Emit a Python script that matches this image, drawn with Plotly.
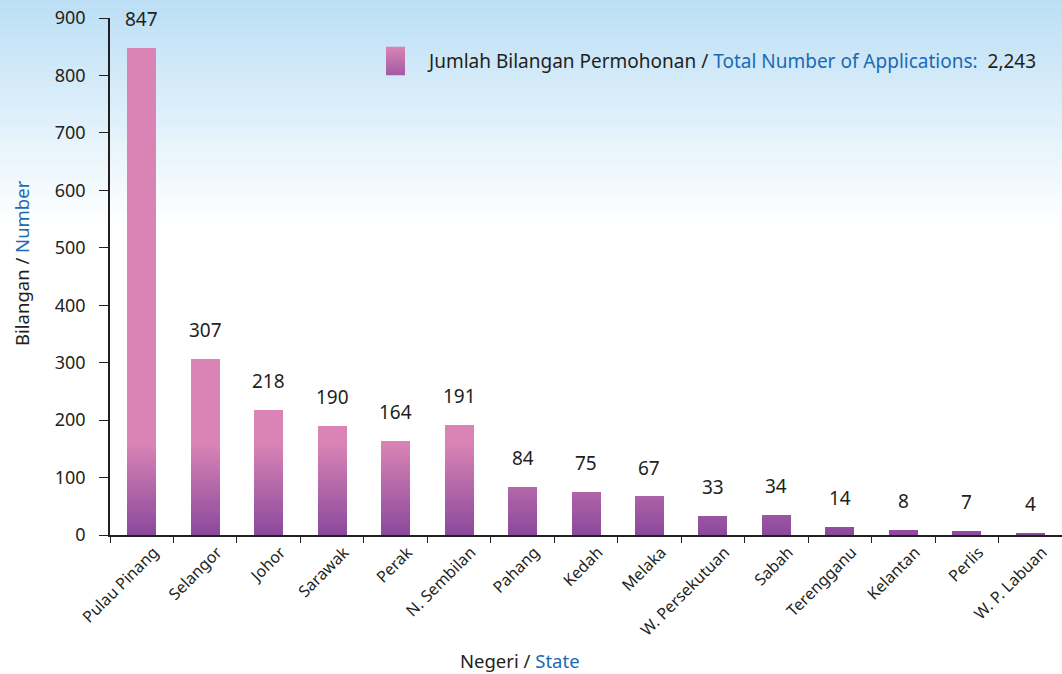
import plotly.graph_objects as go
import numpy as np

states = ["Pulau Pinang", "Selangor", "Johor", "Sarawak", "Perak", "N. Sembilan",
          "Pahang", "Kedah", "Melaka", "W. Persekutuan", "Sabah", "Terengganu",
          "Kelantan", "Perlis", "W. P. Labuan"]
applications = [847, 307, 218, 190, 164, 191, 84, 75, 67, 33, 34, 14, 8, 7, 4]
total_label = "2,243"
y_ticks = [0, 100, 200, 300, 400, 500, 600, 700, 800, 900]

DARK = "#231F20"
BLUE = "#1B6AB4"
FONT = "Noto Sans"

PURPLE = np.array([0x8B, 0x49, 0x9C])
PINK = np.array([0xD9, 0x84, 0xB5])

def mix(t):
    c = PURPLE + (PINK - PURPLE) * t
    return "rgb(%d,%d,%d)" % tuple(int(round(v)) for v in c)

fig = go.Figure()

# gradient bars: stacked slices whose colour depends on absolute height
vals = np.array(applications, dtype=float)
n_bands = 32
grad_top = 160.0
edges = list(np.linspace(0, grad_top, n_bands + 1)) + [10000.0]
for i in range(len(edges) - 1):
    lo, hi = edges[i], edges[i + 1]
    seg = np.clip(vals - lo, 0, hi - lo)
    t = min((lo + (min(hi, grad_top) - lo) / 2) / grad_top, 1.0) if lo < grad_top else 1.0
    fig.add_trace(go.Bar(
        x=states, y=seg, width=0.457,
        marker=dict(color=mix(t), line=dict(width=0)),
        showlegend=False, hoverinfo="skip",
    ))

# value labels
for s, v in zip(states, applications):
    fig.add_annotation(x=s, y=v, text=str(v), showarrow=False, yshift=29,
                       font=dict(family=FONT, size=19, color=DARK), yanchor="middle")

# background gradient (paper coords; plot height 517px, top margin 18px)
PH = 517.0
PW = 952.0
top_rgb = np.array([0xBB, 0xDF, 0xF5])
white = np.array([255, 255, 255])
nbg = 60
py_end = 225.0
for k in range(nbg):
    p0 = py_end * k / nbg
    p1 = py_end * (k + 1) / nbg
    t = (k + 0.5) / nbg
    c = top_rgb + (white - top_rgb) * t
    fig.add_shape(type="rect", xref="paper", yref="paper",
                  x0=-0.2, x1=1.05, y0=(535 - p1) / PH - 0.0005, y1=(535 - p0) / PH + 0.0005,
                  fillcolor="rgb(%d,%d,%d)" % tuple(int(round(v)) for v in c),
                  line=dict(width=0), layer="below")

# legend swatch (gradient)
lx0 = (386 - 110) / PW
lx1 = (405 - 110) / PW
nsw = 14
for k in range(nsw):
    y_top = 47 + 28 * k / nsw
    y_bot = 47 + 28 * (k + 1) / nsw
    t = 1 - (k + 0.5) / nsw
    fig.add_shape(type="rect", xref="paper", yref="paper",
                  x0=lx0, x1=lx1, y0=(535 - y_bot) / PH - 0.0005, y1=(535 - y_top) / PH + 0.0005,
                  fillcolor=mix(0.3 + 0.7 * t), line=dict(width=0), layer="above")

fig.add_annotation(xref="paper", yref="paper", x=(425 - 110) / PW, y=(535 - 61) / PH,
                   xanchor="left", yanchor="middle", showarrow=False,
                   text=("<span style='color:%s'>Jumlah Bilangan Permohonan / </span>"
                         "<span style='color:%s'>Total Number of Applications:</span>"
                         "<span style='color:%s'>  %s</span>") % (DARK, BLUE, DARK, total_label),
                   font=dict(family=FONT, size=19, color=DARK))

# x-axis title
fig.add_annotation(xref="paper", yref="paper", x=(520 - 110) / PW, y=(535 - 661) / PH,
                   xanchor="center", yanchor="middle", showarrow=False,
                   text="<span style='color:%s'>Negeri / </span><span style='color:%s'>State</span>" % (DARK, BLUE),
                   font=dict(family=FONT, size=18.5))

# y-axis title
fig.add_annotation(xref="paper", yref="paper", x=(21 - 110) / PW, y=(535 - 263) / PH,
                   xanchor="center", yanchor="middle", showarrow=False, textangle=-90,
                   text="<span style='color:%s'>Bilangan / </span><span style='color:%s'>Number</span>" % (DARK, BLUE),
                   font=dict(family=FONT, size=18.5))

fig.update_layout(
    width=1062, height=674,
    margin=dict(l=110, r=0, t=18, b=139),
    paper_bgcolor="white",
    plot_bgcolor="rgba(0,0,0,0)",
    barmode="stack",
    bargap=0,
    font=dict(family=FONT, color=DARK),
    showlegend=False,
    xaxis=dict(
        range=[-0.5, 14.5], showgrid=False, zeroline=False,
        showline=True, linecolor=DARK, linewidth=1.5,
        ticks="outside", tickson="boundaries", ticklen=6, tickcolor=DARK, tickwidth=1.2,
        tickangle=-45, tickfont=dict(family=FONT, size=16, color=DARK),
        ticklabelshift=12,
    ),
    yaxis=dict(
        range=[0, 900], tickvals=y_ticks, showgrid=False, zeroline=False,
        showline=True, linecolor=DARK, linewidth=1.5,
        ticks="outside", ticklen=9, tickcolor=DARK, tickwidth=1.2,
        tickfont=dict(family=FONT, size=18, color=DARK),
        ticklabelstandoff=10,
    ),
)

fig.write_html("out.html", post_script="document.body.style.margin='0';",
               config={"displayModeBar": False})
